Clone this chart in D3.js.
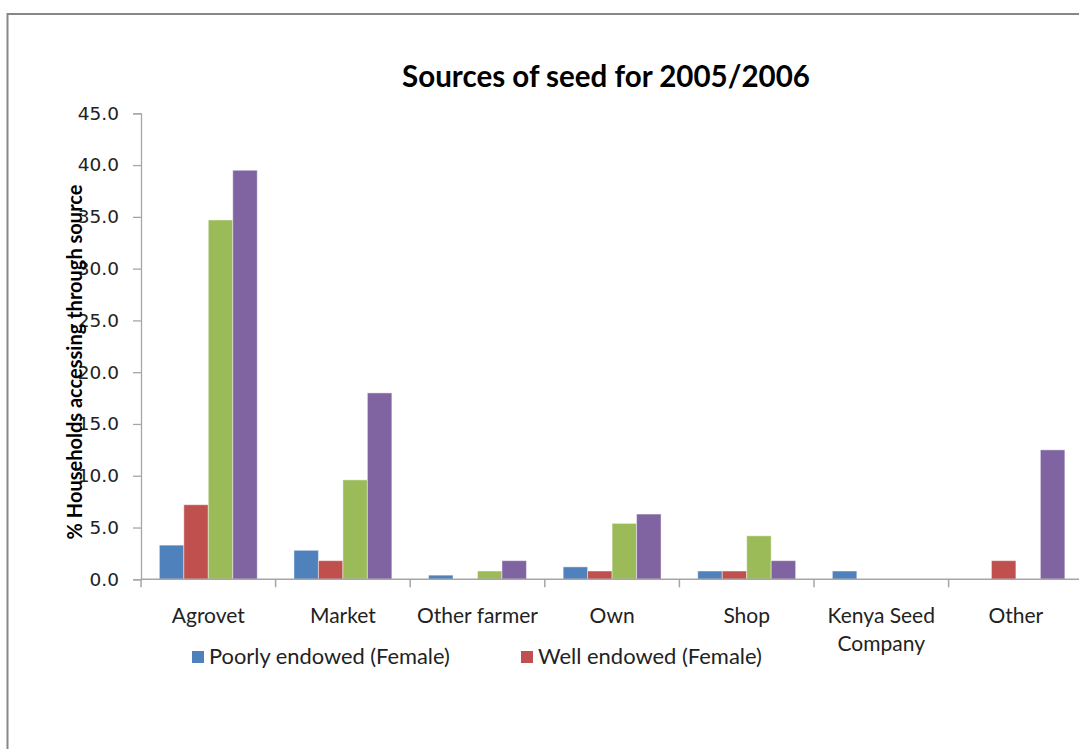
<!DOCTYPE html>
<html>
<head>
<meta charset="utf-8">
<script src="https://cdn.jsdelivr.net/npm/d3@7"></script>
<style>
  html, body { margin: 0; padding: 0; background: #fff; }
  svg { display: block; }
</style>
</head>
<body>
<script>
// ---- data ----
const categories = ["Agrovet", "Market", "Other farmer", "Own", "Shop", "Kenya Seed\nCompany", "Other"];
const seriesNames = ["Poorly endowed (Female)", "Well endowed (Female)", "Poorly endowed (Male)", "Well endowed (Male)"];
const poorlyFemale = [3.3, 2.8, 0.4, 1.2, 0.8, 0.8, 0.0];
const wellFemale   = [7.2, 1.8, 0.0, 0.8, 0.8, 0.0, 1.8];
const poorlyMale   = [34.7, 9.6, 0.8, 5.4, 4.2, 0.0, 0.0];
const wellMale     = [39.5, 18.0, 1.8, 6.3, 1.8, 0.0, 12.5];
const yTicks = [0, 5, 10, 15, 20, 25, 30, 35, 40, 45];
const legendShown = [0, 1];
const colors = ["#4F81BD", "#C0504D", "#9BBB59", "#8064A2"];

const seriesValues = [poorlyFemale, wellFemale, poorlyMale, wellMale];

const W = 1079, H = 749;
const svg = d3.select("body").append("svg").attr("width", W).attr("height", H);

// frame
svg.append("rect").attr("x", 7.5).attr("y", 14).attr("width", 1200).attr("height", 1000)
  .attr("fill", "#fff").attr("stroke", "#878787").attr("stroke-width", 2);

const x0 = 141, catW = 134.6;
const x = d3.scaleBand().domain(d3.range(categories.length))
  .range([x0, x0 + catW * categories.length]).paddingInner(0).paddingOuter(0);
const x1 = d3.scaleBand().domain(d3.range(4)).range([0, catW]).paddingInner(0).paddingOuter(0.75);
const y = d3.scaleLinear().domain([0, 45]).range([579.3, 113.3]);

function fit(sel, target) {
  const n = sel.node();
  const fs = parseFloat(sel.attr("font-size"));
  const w = n.getComputedTextLength();
  sel.attr("font-size", (fs * target / w).toFixed(2));
}

// bars
const g = svg.append("g");
seriesValues.forEach((vals, s) => {
  g.selectAll(null).data(vals).enter().append("rect")
    .attr("x", (d, i) => x(i) + x1(s))
    .attr("width", x1.bandwidth())
    .attr("y", d => y(d))
    .attr("height", d => y(0) - y(d))
    .attr("fill", colors[s])
    .attr("stroke", d => d > 0 ? "rgba(255,255,255,0.45)" : "none")
    .attr("stroke-width", 1);
});

// y axis
const yAxis = d3.axisLeft(y).tickValues(yTicks).tickFormat(d3.format(".1f")).tickSize(8).tickPadding(14);
const ya = svg.append("g").attr("transform", `translate(${x0},0)`).call(yAxis);
ya.select(".domain").attr("stroke", "#a6a6a6").attr("stroke-width", 1.3);
ya.selectAll(".tick line").attr("stroke", "#a6a6a6").attr("stroke-width", 1.3);
ya.selectAll(".tick text").attr("font-family", "DejaVu Sans").attr("font-size", 18.5).attr("fill", "#222");

// x axis
const xa = svg.append("g").attr("transform", `translate(0,${y(0)})`);
xa.append("line").attr("x1", x0).attr("x2", W).attr("stroke", "#a6a6a6").attr("stroke-width", 1.5);
xa.selectAll(".t").data(d3.range(categories.length + 1)).enter().append("line")
  .attr("x1", d => x0 + d * catW).attr("x2", d => x0 + d * catW)
  .attr("y1", 0).attr("y2", 8).attr("stroke", "#a6a6a6").attr("stroke-width", 1.5);

categories.forEach((c, i) => {
  const lines = c.split("\n");
  const t = svg.append("text")
    .attr("x", x(i) + catW / 2).attr("text-anchor", "middle")
    .attr("font-family", "Lato").attr("font-size", 21).attr("fill", "#222");
  lines.forEach((ln, k) => {
    t.append("tspan").attr("x", x(i) + catW / 2).attr("y", 623 + k * 28).text(ln);
  });
});

// title
const title = svg.append("text").attr("x", 606).attr("y", 87).attr("text-anchor", "middle")
  .attr("font-family", "Lato").attr("font-weight", "bold").attr("font-size", 26).attr("fill", "#000")
  .text("Sources of seed for 2005/2006");
fit(title, 408);

// y label
const yl = svg.append("text").attr("transform", "translate(82,362) rotate(-90)")
  .attr("text-anchor", "middle").attr("font-family", "Lato").attr("font-weight", "bold")
  .attr("font-size", 20).attr("fill", "#000")
  .text("% Households accessing through source");
fit(yl, 355);

// legend
const legendPos = [{bx: 192, tx: 209, tw: 241}, {bx: 521, tx: 538, tw: 224}];
legendShown.forEach((s, k) => {
  const p = legendPos[k];
  svg.append("rect").attr("x", p.bx).attr("y", 651).attr("width", 12).attr("height", 12).attr("fill", colors[s]);
  const t = svg.append("text").attr("x", p.tx).attr("y", 664)
    .attr("font-family", "Lato").attr("font-size", 19).attr("fill", "#222").text(seriesNames[s]);
  fit(t, p.tw);
});
</script>
</body>
</html>
